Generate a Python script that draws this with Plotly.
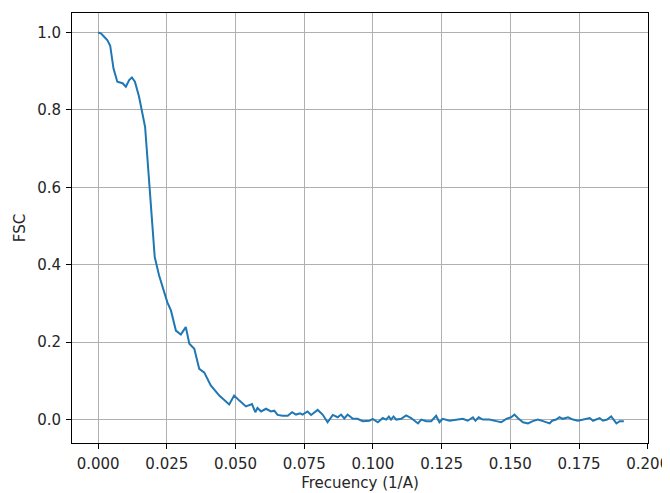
import plotly.graph_objects as go

# FSC curve
freq = [0.0, 0.001, 0.0022, 0.0034, 0.0044, 0.0049, 0.0056, 0.007, 0.0089, 0.0101,
        0.0113, 0.0123, 0.0134, 0.0149, 0.0161, 0.0171, 0.018, 0.0188, 0.0198, 0.0206,
        0.0222, 0.024, 0.0252, 0.0265, 0.0283, 0.0301, 0.0319, 0.0332, 0.035, 0.0368,
        0.0386, 0.041, 0.0441, 0.0477, 0.0495, 0.0514, 0.0538, 0.056, 0.0572, 0.058,
        0.0593, 0.0611, 0.0629, 0.0641, 0.0653, 0.0671, 0.069, 0.0706, 0.072, 0.0735,
        0.0744, 0.0762, 0.0775, 0.0799, 0.0817, 0.0835, 0.0854, 0.0872, 0.0884, 0.0896,
        0.0908, 0.0926, 0.0944, 0.0963, 0.0987, 0.0999, 0.1018, 0.1036, 0.1048, 0.1058,
        0.1066, 0.1075, 0.1085, 0.1103, 0.1121, 0.1139, 0.1164, 0.1176, 0.1194, 0.1212,
        0.123, 0.1242, 0.1254, 0.1279, 0.1303, 0.1327, 0.1345, 0.1364, 0.1373, 0.1385,
        0.14, 0.1424, 0.1449, 0.1467, 0.1485, 0.1503, 0.1515, 0.1527, 0.1546, 0.1564,
        0.1582, 0.16, 0.1619, 0.1643, 0.1652, 0.1667, 0.1679, 0.1691, 0.171, 0.1728,
        0.1746, 0.1764, 0.1789, 0.1801, 0.1825, 0.1837, 0.1852, 0.1867, 0.1886, 0.1898,
        0.1913]
fsc = [1.0, 0.998, 0.989, 0.98, 0.966, 0.937, 0.907, 0.873, 0.869, 0.86,
       0.877, 0.884, 0.873, 0.834, 0.791, 0.756, 0.67, 0.592, 0.497, 0.42,
       0.372, 0.334, 0.303, 0.282, 0.23, 0.22, 0.239, 0.196, 0.183, 0.131,
       0.122, 0.088, 0.062, 0.039, 0.062, 0.049, 0.034, 0.04, 0.019, 0.03,
       0.021, 0.028, 0.021, 0.023, 0.012, 0.01, 0.01, 0.019, 0.013, 0.016,
       0.013, 0.021, 0.012, 0.025, 0.013, -0.007, 0.012, 0.006, 0.013, 0.003,
       0.013, 0.003, 0.002, -0.004, -0.003, 0.002, -0.007, 0.004, 0.0, 0.008,
       0.0, 0.008, 0.0, 0.002, 0.011, 0.004, -0.01, 0.0, -0.004, -0.004,
       0.01, -0.007, 0.002, -0.003, 0.0, 0.002, -0.003, 0.006, -0.003, 0.006,
       0.0, 0.0, -0.004, -0.007, 0.002, 0.006, 0.013, 0.004, -0.007, -0.01,
       -0.004, 0.0, -0.004, -0.01, -0.003, 0.0, 0.006, 0.002, 0.006, 0.0,
       -0.003, 0.0, 0.004, -0.003, 0.004, -0.003, 0.0, 0.008, -0.01, -0.004,
       -0.004]

x_ticks = [0.0, 0.025, 0.05, 0.075, 0.1, 0.125, 0.15, 0.175, 0.2]
y_ticks = [0.0, 0.2, 0.4, 0.6, 0.8, 1.0]

fig = go.Figure()
fig.add_trace(go.Scatter(x=freq, y=fsc, mode="lines",
                         line=dict(color="#1f77b4", width=2)))

# page body adds an 8px offset, margins account for it
fig.update_layout(
    width=670, height=493,
    margin=dict(l=64, r=30, t=5, b=58),
    paper_bgcolor="white", plot_bgcolor="white",
    showlegend=False,
    font=dict(family="DejaVu Sans", size=15, color="#262626"),
)
axis_style = dict(showline=True, linecolor="black", linewidth=1, mirror=True,
                  ticks="outside", ticklen=5, tickcolor="black",
                  showgrid=True, gridcolor="#b0b0b0", gridwidth=1,
                  zeroline=False, ticklabelstandoff=2, automargin=False)
fig.update_xaxes(range=[-0.0095, 0.2001], tickvals=x_ticks, tickformat=".3f",
                 title=dict(text="Frecuency (1/A)", standoff=5, font=dict(size=15)),
                 **axis_style)
fig.update_yaxes(range=[-0.0605, 1.0505], tickvals=y_ticks, tickformat=".1f",
                 title=dict(text="FSC", standoff=7, font=dict(size=15)),
                 **axis_style)

fig.write_html("out.html")
